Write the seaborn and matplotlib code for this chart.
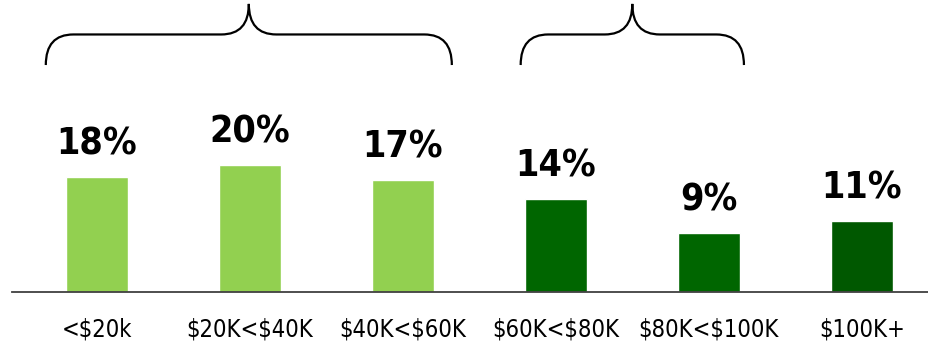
import matplotlib
matplotlib.use("Agg")
import matplotlib.pyplot as plt
from matplotlib.path import Path
from matplotlib.patches import PathPatch
import seaborn as sns
import pandas as pd

categories = ["<$20k", "$20K<$40K", "$40K<$60K", "$60K<$80K", "$80K<$100K", "$100K+"]
values = [17.7, 19.6, 17.2, 14.3, 9.1, 10.9]
value_labels = ["18%", "20%", "17%", "14%", "9%", "11%"]
colors = ["#92D050", "#92D050", "#92D050", "#006600", "#006600", "#005800"]
brace_spans = [(-0.335, 2.32), (2.77, 4.23)]

sns.set_theme(style="white")
plt.rcParams["font.family"] = ["DejaVu Sans"]
plt.rcParams["font.stretch"] = "condensed"
plt.rcParams["text.parse_math"] = False

df = pd.DataFrame({"cat": categories, "val": values})

fig = plt.figure(figsize=(9.29, 3.46), dpi=100)
ax = fig.add_axes([12 / 929, 54 / 346, 917 / 929, 292 / 346])
sns.barplot(data=df, x="cat", y="val", hue="cat", palette=colors,
            width=0.405, legend=False, ax=ax, saturation=1)

ax.set_xlim(-0.556, 5.44)
ax.set_ylim(0, 44.9)
for s in ["top", "right", "left"]:
    ax.spines[s].set_visible(False)
ax.spines["bottom"].set_color("#404040")
ax.spines["bottom"].set_linewidth(1.3)
ax.set_yticks([])
ax.set_xlabel("")
ax.set_ylabel("")
ax.tick_params(axis="x", length=0, pad=18, labelsize=17, labelcolor="black")
for t in ax.get_xticklabels():
    t.set_fontstretch("condensed")

for i, (v, lab) in enumerate(zip(values, value_labels)):
    ax.annotate(lab, (i, v), xytext=(0, 16), textcoords="offset points",
                ha="center", va="baseline", fontsize=27, fontweight="bold",
                fontstretch="condensed", color="black")

def draw_brace(ax, x0, x1, yb, ym, yt, r):
    xc = (x0 + x1) / 2
    verts = [
        (x0, yb), (x0, ym), (x0 + r, ym),
        (xc - r, ym),
        (xc, ym), (xc, yt),
        (xc, ym), (xc + r, ym),
        (x1 - r, ym),
        (x1, ym), (x1, yb),
    ]
    codes = [Path.MOVETO, Path.CURVE3, Path.CURVE3,
             Path.LINETO,
             Path.CURVE3, Path.CURVE3,
             Path.CURVE3, Path.CURVE3,
             Path.LINETO,
             Path.CURVE3, Path.CURVE3]
    patch = PathPatch(Path(verts, codes), facecolor="none", edgecolor="black",
                      lw=1.6, clip_on=False)
    ax.add_patch(patch)

for x0, x1 in brace_spans:
    draw_brace(ax, x0, x1, 34.9, 39.6, 44.3, 0.18)

fig.savefig("out.png", dpi=100)
